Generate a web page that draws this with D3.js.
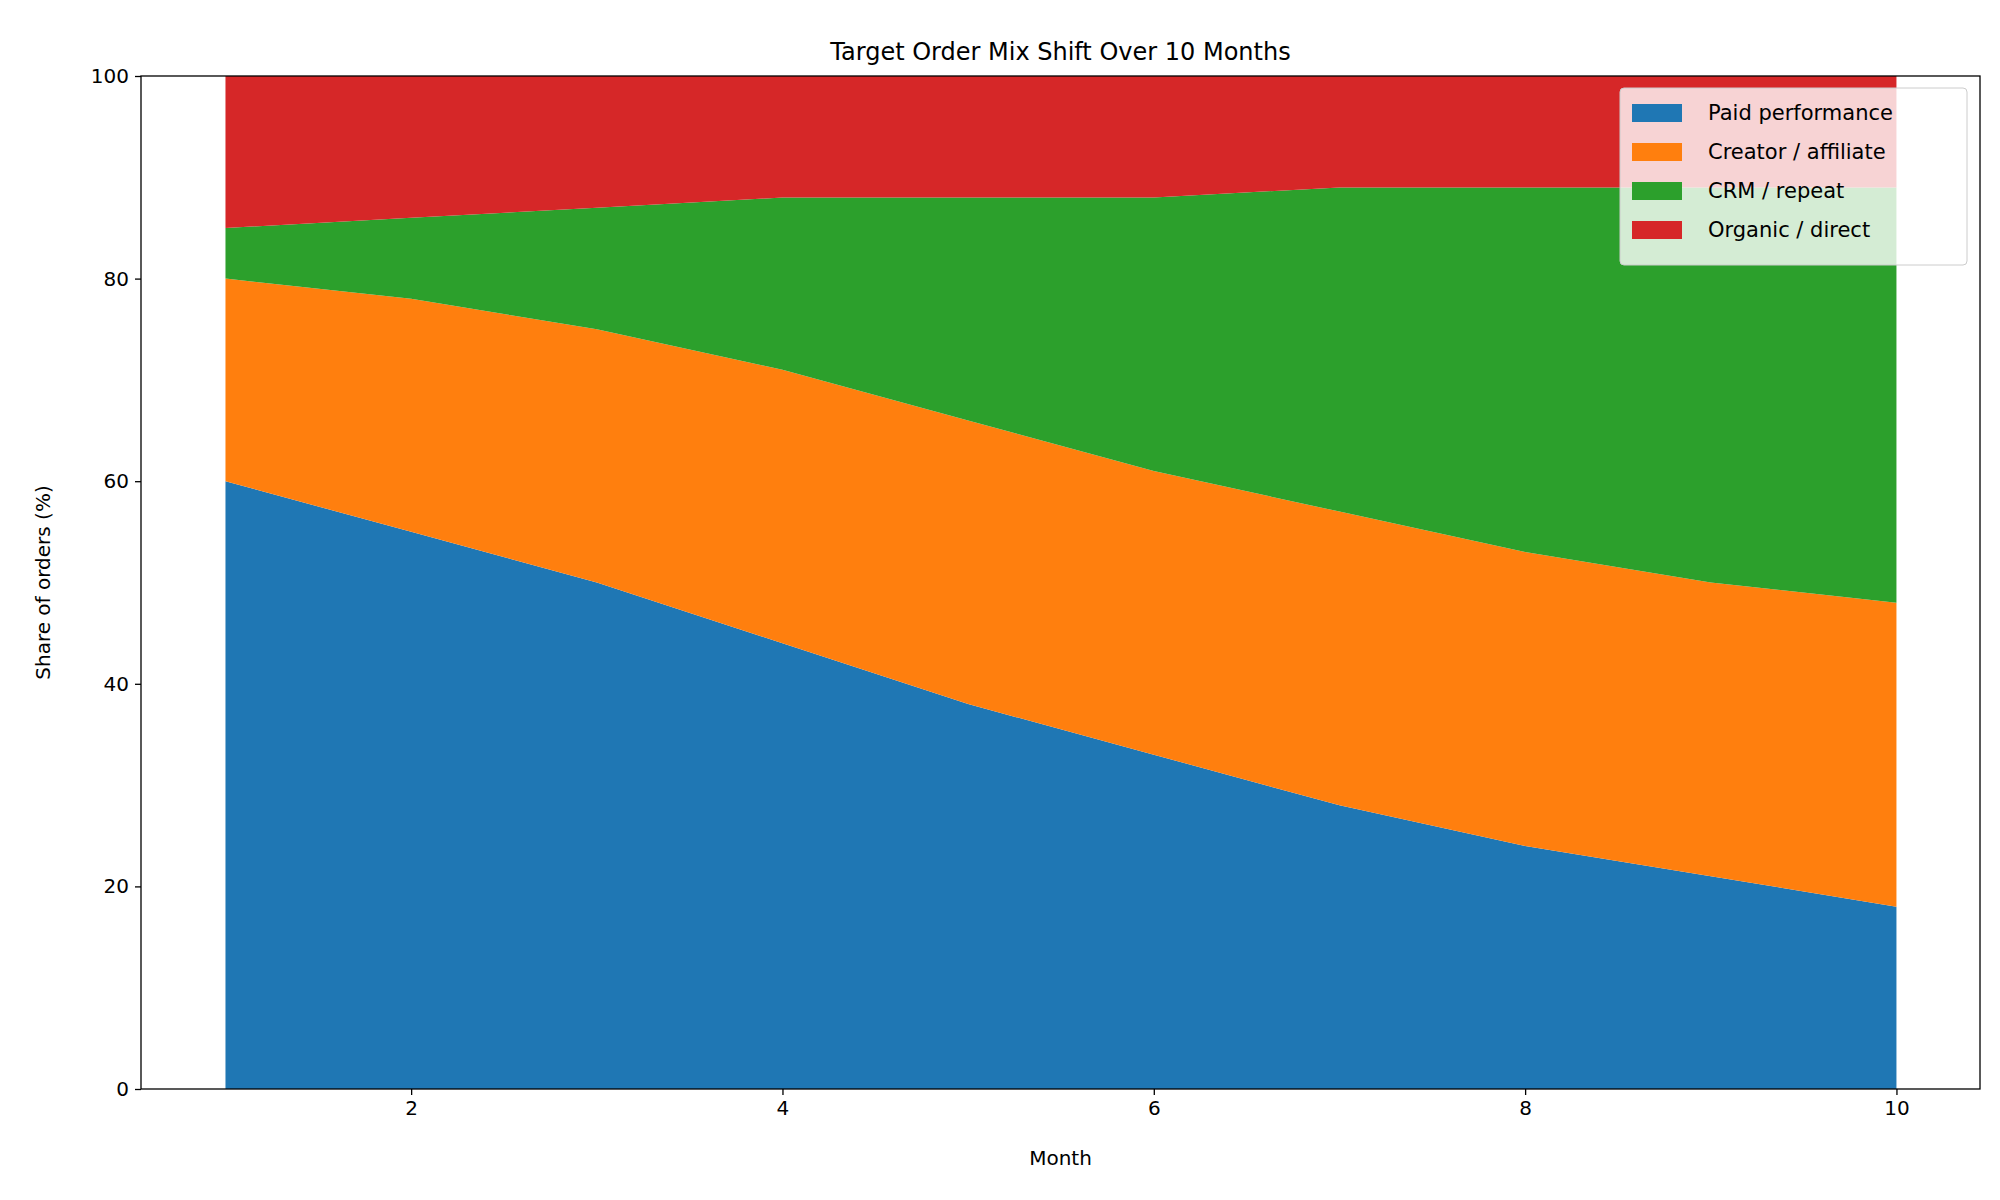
<!DOCTYPE html>
<html><head><meta charset="utf-8">
<script src="https://cdn.jsdelivr.net/npm/d3@7"></script>
<style>body{margin:0;background:#fff}text{font-family:"DejaVu Sans",sans-serif;fill:#000}</style>
</head><body><svg id="c" width="2000" height="1200"></svg>
<script>
const months=[1,2,3,4,5,6,7,8,9,10];
const seriesNames=["Paid performance","Creator / affiliate","CRM / repeat","Organic / direct"];
const paid=[60,55,50,44,38,33,28,24,21,18];
const creator=[20,23,25,27,28,28,29,29,29,30];
const crm=[5,8,12,17,22,27,32,36,39,41];
const organic=[15,14,13,12,12,12,11,11,11,11];
const colors=["#1f77b4","#ff7f0e","#2ca02c","#d62728"];
const xTicks=[2,4,6,8,10], yTicks=[0,20,40,60,80,100];

const svg=d3.select("#c");
const m={l:141,r:1980,t:76,b:1089};
const x=d3.scaleLinear().domain([0.545,10.45]).range([m.l,m.r]);
const y=d3.scaleLinear().domain([0,100]).range([m.b,m.t]);
const rows=months.map((mo,i)=>({mo,a:paid[i],b:creator[i],c:crm[i],d:organic[i]}));
const stack=d3.stack().keys(["a","b","c","d"])(rows);
const area=d3.area().x(d=>x(d.data.mo)).y0(d=>y(d[0])).y1(d=>y(d[1]));
svg.selectAll("path.s").data(stack).enter().append("path").attr("d",area).attr("fill",(d,i)=>colors[i]);
const fs=20;
const xa=svg.append("g").attr("transform",`translate(0,${m.b})`).call(d3.axisBottom(x).tickValues(xTicks).tickSize(6).tickPadding(6));
const ya=svg.append("g").attr("transform",`translate(${m.l},0)`).call(d3.axisLeft(y).tickValues(yTicks).tickSize(6).tickPadding(6));
[xa,ya].forEach(g=>{g.select(".domain").remove();g.selectAll("text").attr("font-size",fs).attr("font-family","DejaVu Sans");g.selectAll("line").attr("stroke","#000").attr("stroke-width",1.3);});
svg.append("rect").attr("x",m.l).attr("y",m.t).attr("width",m.r-m.l).attr("height",m.b-m.t).attr("fill","none").attr("stroke","#000").attr("stroke-width",1.3);
svg.append("text").attr("x",(m.l+m.r)/2).attr("y",m.t-16).attr("text-anchor","middle").attr("font-size",24).text("Target Order Mix Shift Over 10 Months");
svg.append("text").attr("x",(m.l+m.r)/2).attr("y",m.b+76).attr("text-anchor","middle").attr("font-size",fs).text("Month");
svg.append("text").attr("transform",`translate(50,${(m.t+m.b)/2}) rotate(-90)`).attr("text-anchor","middle").attr("font-size",fs).text("Share of orders (%)");
const lg=svg.append("g").attr("transform",`translate(${m.r-360},${m.t+12})`);
lg.append("rect").attr("width",347).attr("height",177).attr("rx",4).attr("fill","rgba(255,255,255,0.8)").attr("stroke","#ccc");
seriesNames.forEach((n,i)=>{
  lg.append("rect").attr("x",12).attr("y",16+i*39).attr("width",50).attr("height",18).attr("fill",colors[i]);
  lg.append("text").attr("x",88).attr("y",32+i*39).attr("font-size",fs+1).text(n);
});
</script></body></html>
